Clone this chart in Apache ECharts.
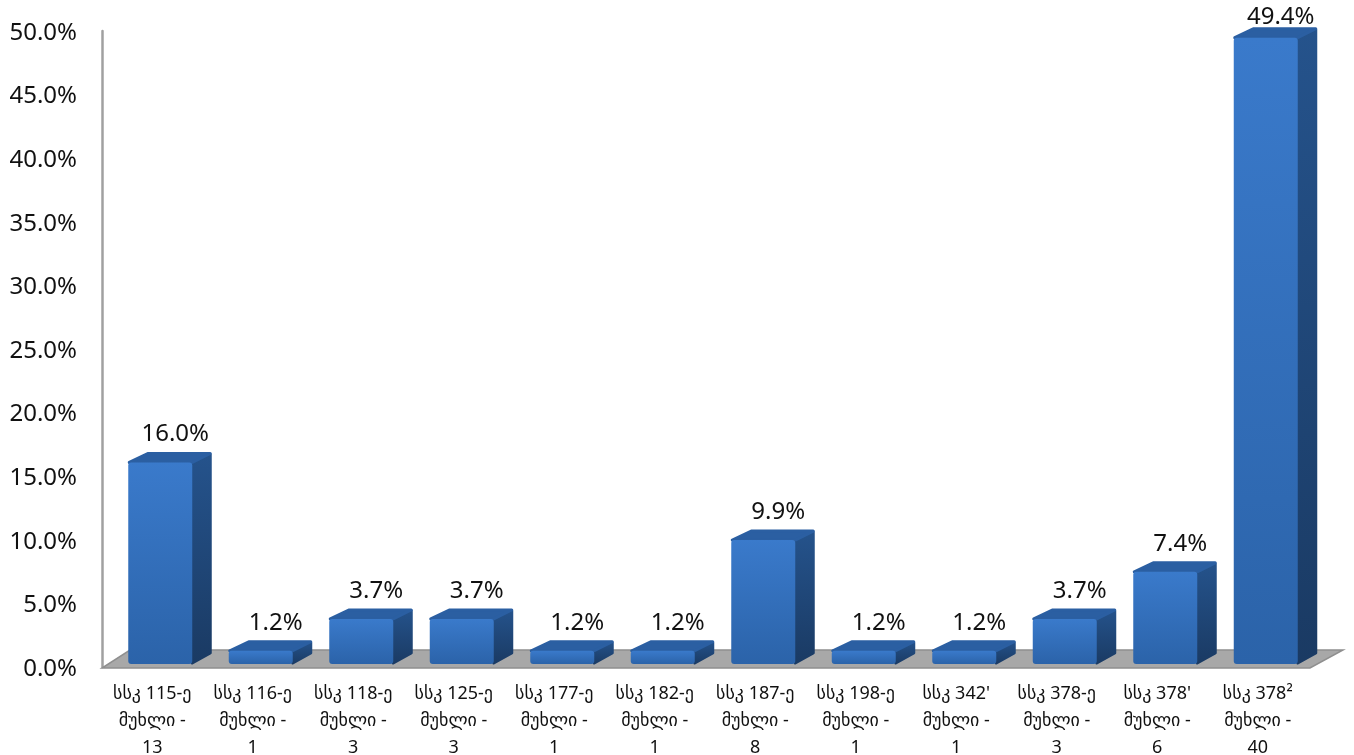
<!DOCTYPE html>
<html><head><meta charset="utf-8">
<style>html,body{margin:0;padding:0;background:#fff}#c{width:1354px;height:755px}</style>
<script src="https://cdn.jsdelivr.net/npm/echarts@6/dist/echarts.min.js"></script>
</head><body><div id="c"></div>
<script>
const categories = [
 "სსკ 115-ე\nმუხლი -\n13","სსკ 116-ე\nმუხლი -\n1","სსკ 118-ე\nმუხლი -\n3","სსკ 125-ე\nმუხლი -\n3",
 "სსკ 177-ე\nმუხლი -\n1","სსკ 182-ე\nმუხლი -\n1","სსკ 187-ე\nმუხლი -\n8","სსკ 198-ე\nმუხლი -\n1",
 "სსკ 342'\nმუხლი -\n1","სსკ 378-ე\nმუხლი -\n3","სსკ 378'\nმუხლი -\n6","სსკ 378²\nმუხლი -\n40"];
const shares = [16.0,1.2,3.7,3.7,1.2,1.2,9.9,1.2,1.2,3.7,7.4,49.4];
const FONT = '"Noto Sans","DejaVu Sans",sans-serif';
const grad = (a,b)=>({type:'linear',x:0,y:0,x2:0,y2:1,colorStops:[{offset:0,color:a},{offset:1,color:b}]});
const DX=19, DY=10, W=64, SHIFT=8;

function renderFloor(params, api){
  const cs = params.coordSys;
  const y0 = cs.y+cs.height;
  const pts = [[cs.x,y0+1],[cs.x+cs.width+2,y0+1],[cs.x+cs.width+35,y0-17],[cs.x+28,y0-17]];
  return {type:'polygon',shape:{points:pts},style:{fill:'#a8a8a8',stroke:'#8f8f8f',lineWidth:1.5},silent:true};
}
function renderBar(params, api){
  const p = api.coord([api.value(0),api.value(1)]);
  const b = api.coord([api.value(0),0]);
  const cx = p[0]+SHIFT, l = cx-W/2, r = cx+W/2, t = p[1]-1, bot = b[1]-3;
  const labelY = Math.max(t-28, 17);
  const round = {lineJoin:'round',lineWidth:3};
  return {type:'group',children:[
    {type:'text',z2:1,style:{text:api.value(1).toFixed(1)+'%',x:cx+15,y:labelY,align:'center',verticalAlign:'middle',
       fill:'#111',font:'24px '+FONT}},
    {type:'polygon',z2:2,shape:{points:[[r,t+1],[r+DX-1,t-DY+2],[r+DX-1,bot-DY-1],[r,bot-1]]},
       style:{fill:grad('#25538c','#1a3a63'),stroke:grad('#25538c','#1a3a63'),...round}},
    {type:'polygon',z2:2,shape:{points:[[l+1,t],[l+DX+1,t-DY+1],[r+DX-1,t-DY+1],[r,t]]},
       style:{fill:'#2b5fa2',stroke:'#2b5fa2',...round}},
    {type:'rect',z2:3,shape:{x:l,y:t,width:W,height:bot-t,r:3},
       style:{fill:grad('#3a7acb','#2b63a9')}}
  ]};
}
const chart = echarts.init(document.getElementById('c'),null,{renderer:'canvas'});
chart.setOption({
  animation:false,
  grid:{left:102,width:1206,top:31,bottom:88,containLabel:false,outerBoundsMode:'none'},
  xAxis:{type:'category',data:categories,axisLine:{show:false},axisTick:{show:false},
    axisLabel:{interval:0,color:'#111',fontSize:18,lineHeight:27,margin:13,fontFamily:FONT}},
  yAxis:{type:'value',min:0,max:50,interval:5,splitLine:{show:false},
    axisLine:{show:true,lineStyle:{color:'#a0a0a0',width:2.5}},axisTick:{show:false},
    axisLabel:{margin:25,formatter:v=>'{a|'+v.toFixed(1)+'%}',
      rich:{a:{color:'#111',fontSize:24,fontFamily:FONT,padding:[4,0,0,0]}}}},
  series:[
    {type:'custom',data:[[0,0]],renderItem:renderFloor,silent:true,clip:false,z:1},
    {type:'custom',data:shares.map((v,i)=>[i,v]),encode:{x:0,y:1},renderItem:renderBar,clip:false,z:2}
  ]
});
</script></body></html>
